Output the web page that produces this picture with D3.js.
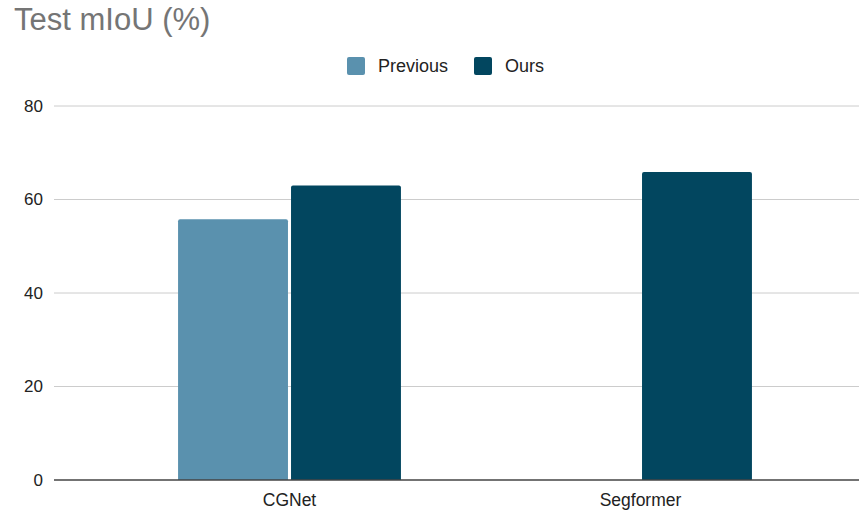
<!DOCTYPE html>
<html>
<head>
<meta charset="utf-8">
<script src="https://cdn.jsdelivr.net/npm/d3@7"></script>
<style>
  html, body { margin: 0; padding: 0; background: #fff; }
  svg { display: block; font-family: "Liberation Sans", Arial, sans-serif; }
</style>
</head>
<body>
<svg id="chart" width="859" height="512"></svg>
<script>
// Chart data
const categories = ["CGNet", "Segformer"];
const seriesNames = ["Previous", "Ours"];
const previousValues = [55.8, null];
const oursValues = [63.0, 65.9];
const yTicks = [0, 20, 40, 60, 80];
const seriesColors = ["#5a91ae", "#02465f"];

const svg = d3.select("#chart");
const W = 859, H = 512;

const y = d3.scaleLinear().domain([0, 80]).range([480, 106]);
const x = d3.scaleBand().domain(categories).range([114, 816])
  .paddingInner(0.365).paddingOuter(0.1825);
const xs = d3.scaleBand().domain(seriesNames).range([0, x.bandwidth()]).paddingInner(0.027);

// Title
svg.append("text")
  .attr("x", 14).attr("y", 30)
  .attr("font-size", 31).attr("fill", "#757575")
  .text("Test mIoU (%)");

// Gridlines and y tick labels
const grid = svg.append("g");
yTicks.forEach(t => {
  if (t !== 0) {
    grid.append("line")
      .attr("x1", 54).attr("x2", W)
      .attr("y1", y(t)).attr("y2", y(t))
      .attr("stroke", "#cccccc").attr("stroke-width", 1);
  }
  grid.append("text")
    .attr("x", 43).attr("y", y(t)).attr("dy", "0.35em")
    .attr("text-anchor", "end").attr("font-size", 17).attr("fill", "#222")
    .text(t);
});

// Bars
const rows = categories.map((c, i) => ({ cat: c, values: [previousValues[i], oursValues[i]] }));
const groups = svg.append("g").selectAll("g").data(rows).join("g")
  .attr("transform", d => `translate(${x(d.cat)},0)`);
groups.selectAll("path")
  .data(d => d.values.map((v, j) => ({ v, s: seriesNames[j], j })).filter(e => e.v != null))
  .join("path")
  .attr("fill", d => seriesColors[d.j])
  .attr("d", d => {
    const x0 = xs(d.s), w = xs.bandwidth(), y0 = y(d.v), y1 = y(0), r = 2;
    return `M${x0},${y1}V${y0 + r}Q${x0},${y0} ${x0 + r},${y0}H${x0 + w - r}Q${x0 + w},${y0} ${x0 + w},${y0 + r}V${y1}Z`;
  });

// Baseline axis
svg.append("line")
  .attr("x1", 54).attr("x2", W)
  .attr("y1", y(0)).attr("y2", y(0))
  .attr("stroke", "#444").attr("stroke-width", 1.3);

// Category labels
svg.append("g").selectAll("text").data(categories).join("text")
  .attr("x", d => x(d) + x.bandwidth() / 2)
  .attr("y", 506)
  .attr("text-anchor", "middle").attr("font-size", 17.5).attr("fill", "#222")
  .text(d => d);

// Legend
const legendItems = [
  { name: seriesNames[0], color: seriesColors[0], x: 347 },
  { name: seriesNames[1], color: seriesColors[1], x: 474 }
];
const lg = svg.append("g").selectAll("g").data(legendItems).join("g")
  .attr("transform", d => `translate(${d.x},57)`);
lg.append("rect").attr("width", 18).attr("height", 18).attr("rx", 2).attr("fill", d => d.color);
lg.append("text").attr("x", 31).attr("y", 9).attr("dy", "0.35em")
  .attr("font-size", 18).attr("fill", "#222").text(d => d.name);
</script>
</body>
</html>
